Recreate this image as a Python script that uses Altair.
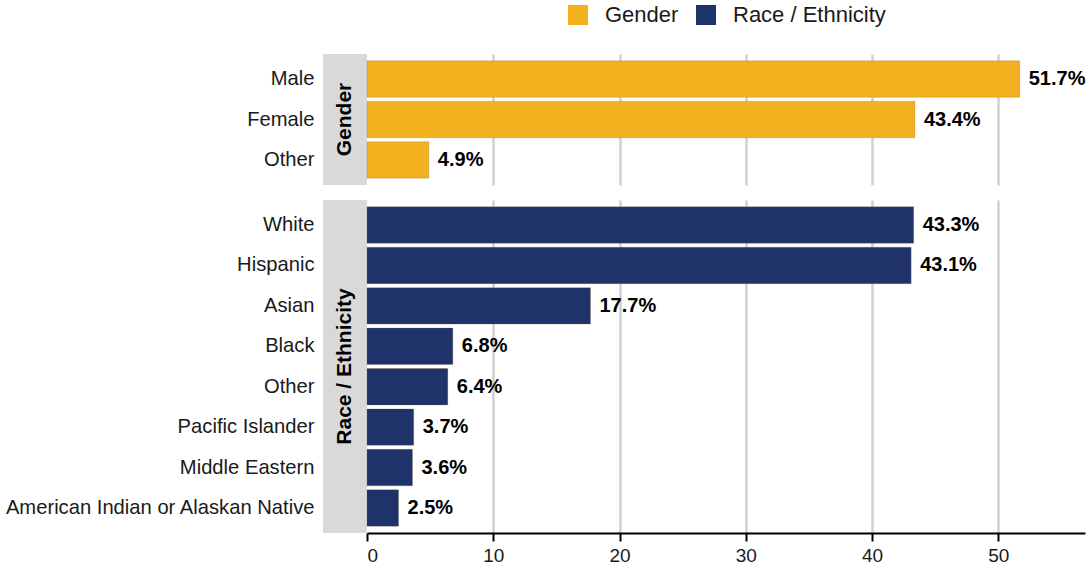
import altair as alt
import pandas as pd

# Survey composition, in percent
gender_cats = ["Male", "Female", "Other"]
gender_vals = [51.7, 43.4, 4.9]

race_cats = [
    "White",
    "Hispanic",
    "Asian",
    "Black",
    "Other",
    "Pacific Islander",
    "Middle Eastern",
    "American Indian or Alaskan Native",
]
race_vals = [43.3, 43.1, 17.7, 6.8, 6.4, 3.7, 3.6, 2.5]

groups = ["Gender", "Race / Ethnicity"]
group_colors = ["#F3B11F", "#1F3269"]

x_ticks = [0, 10, 20, 30, 40, 50]
x_max = 56.87

FONT = "Liberation Sans"
TEXT = "#1a1a1a"
W = 718
STRIP_W = 44

legend = alt.Legend(
    orient="none",
    legendX=200,
    legendY=-50,
    direction="horizontal",
    title=None,
    symbolType="square",
    symbolSize=400,
    symbolStrokeWidth=0,
    symbolOpacity=1,
    labelFontSize=22,
    labelOffset=16,
    columnPadding=16,
    labelColor=TEXT,
    labelFont=FONT,
)


def panel(name, cats, vals, height, bottom):
    df = pd.DataFrame({"category": cats, "value": vals, "group": name})
    df["label"] = [f"{v:.1f}%" for v in vals]

    if bottom:
        x_axis = alt.Axis(
            values=x_ticks,
            title=None,
            grid=True,
            gridColor="#D0D0D0",
            gridWidth=2.5,
            gridOpacity=alt.condition("datum.value === 0", alt.value(0), alt.value(1)),
            domain=True,
            domainColor="#000000",
            domainWidth=2,
            ticks=True,
            tickColor="#000000",
            tickWidth=2,
            tickSize=8,
            labelFontSize=19,
            labelPadding=5,
            labelColor=TEXT,
            labelFont=FONT,
        )
    else:
        x_axis = alt.Axis(
            values=x_ticks,
            title=None,
            grid=True,
            gridColor="#D0D0D0",
            gridWidth=2.5,
            gridOpacity=alt.condition("datum.value === 0", alt.value(0), alt.value(1)),
            domain=False,
            ticks=False,
            labels=False,
        )

    x_enc = alt.X(
        "value:Q",
        scale=alt.Scale(domain=[0, x_max], nice=False, zero=True),
        axis=x_axis,
    )
    y_enc = alt.Y(
        "category:N",
        sort=cats,
        scale=alt.Scale(paddingInner=0.1, paddingOuter=0.17),
        axis=alt.Axis(
            title=None,
            ticks=False,
            domain=False,
            grid=False,
            labelFontSize=20.2,
            labelPadding=53,
            labelLimit=500,
            labelColor=TEXT,
            labelFont=FONT,
        ),
    )

    base = alt.Chart(df)
    bars = base.mark_bar(stroke="#7a6a40", strokeWidth=0.5, strokeOpacity=0.5).encode(
        x=x_enc,
        y=y_enc,
        color=alt.Color(
            "group:N",
            scale=alt.Scale(domain=groups, range=group_colors),
            legend=legend,
        ),
    )
    labels = base.mark_text(
        align="left",
        baseline="middle",
        dx=9,
        fontSize=20,
        fontWeight="bold",
        font=FONT,
        color="#000000",
    ).encode(x="value:Q", y=alt.Y("category:N", sort=cats), text="label:N")

    strip_df = pd.DataFrame({"panel": [name]})
    strip_bg = alt.Chart(strip_df).mark_rect(color="#D9D9D9").encode(
        x=alt.value(-STRIP_W),
        x2=alt.value(0),
        y=alt.value(0),
        y2=alt.value(height),
    )
    strip_txt = alt.Chart(strip_df).mark_text(
        angle=270,
        align="center",
        baseline="middle",
        fontSize=21,
        fontWeight="bold",
        font=FONT,
        color="#000000",
    ).encode(
        text="panel:N",
        x=alt.value(-STRIP_W / 2),
        y=alt.value(height / 2),
    )

    return alt.layer(strip_bg, bars, labels, strip_txt).properties(
        width=W, height=height
    )


top = panel("Gender", gender_cats, gender_vals, 131, bottom=False)
bottom = panel("Race / Ethnicity", race_cats, race_vals, 333, bottom=True)

chart = (
    alt.vconcat(top, bottom, spacing=15)
    .resolve_scale(color="shared")
    .properties(padding={"left": 4, "top": 4, "right": 0, "bottom": 2})
    .configure(font=FONT, background="white")
    .configure_view(strokeWidth=0, stroke="transparent")
)

chart.save("out.html", embed_options={"renderer": "svg", "actions": False})
